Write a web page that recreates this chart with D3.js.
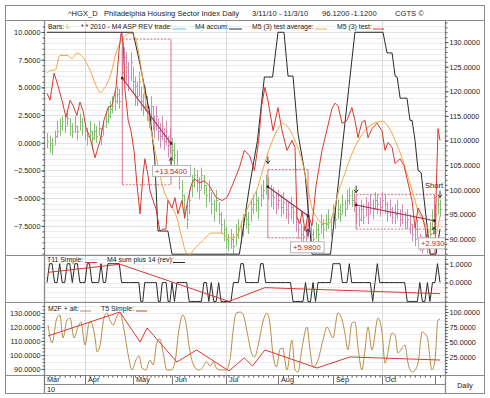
<!DOCTYPE html>
<html><head><meta charset="utf-8">
<script src="https://cdn.jsdelivr.net/npm/d3@7"></script>
<style>
body{margin:0;background:#fff;}
text{font-family:"Liberation Sans",Arial,Helvetica,sans-serif;fill:#222;}
</style></head>
<body><svg id="c" width="490" height="398"></svg>
<script>
// ---------- DATA ----------
const monthLabels = ["Mar","Apr","May","Jun","Jul","Aug","Sep","Oct",""];
const monthStartIdx = [-1.2,15,36,56,78,99,121,142,163];
const quarterGridIdx = [15,78,142];
const leftTicksMain = [10,7.5,5,2.5,0,-2.5,-5,-7.5];
const rightTicksMain = [130,125,120,115,110,105,100,95,90];
const rightTicksT11 = [1,0];
const leftTicksBottom = [130,120,110,100,90];
const rightTicksBottom = [100,75,50,25];

const barClose = [110,109.5,109,111,112,113,114,113,114.5,113,112,113,112,114,113,112,
 111,112,110.5,112,111,112.5,111,113,114,115,116.5,117,118,119.5,118,
 124,127,125,123,126,122,
 121,119,122,118,117,119,116,115,117,114,113,115,112,111,113,110,112,109,110,
 108,107,105,103,99,96,94,98,101,103,102,100,103,101,99,100,97,96,98,95,93,92,90,89,90,88.5,91,92,91,93,94,93,96,97,98,96,99,100,
 101,100.5,99,98.5,97,98,96.5,97.5,96,95,96.5,95.5,94,92,91,90.5,91.5,93,
 91,90,92,91,93,92,93,94,92,95,94,96,95,97,96,98,99,98,
 97.5,95,94,96,94.5,96.5,95,97,96,98,97,96.5,98,97,95.5,96,94.5,95,96,94,95,93.5,94,
 93,91,90,92,89,88,90,89,
 91,94,95,97,96.12];
const barHigh = [111.5,111,110.5,112,114,114.5,115,115,116,114.5,113.5,115,113,115.5,114.5,113.5,
 112.5,114,112,113.5,113,114,112.5,114,115.5,117,118,119,120,121,120.5,
 132,129,128,126,128,125,
 123,122,124,121,119.5,121,119,117,119,117,115,117,114.5,113.5,115,112.5,114,111,112.5,
 110.5,109.5,108,105,102,99,97,100,103,104.5,104,102.5,104.5,103,101,102,99.5,98,100,97.5,95.5,94,92.5,91,92,91,93,94,93.5,95,96,95.5,98,99,100,98.5,101,102,
 103,102.5,101,100.5,99.5,100,99,99.5,98,97.5,98.5,97,96,94,93,92.5,93,95,
 93,92,93.5,93,95,94,95,96,94.5,97,96,98,97,99,98,100,100.5,100,
 99.5,97.5,96.5,98,97,98.5,97.5,99,98,99.5,99,98.5,99.5,99,97.5,98,96.5,97,98,96,97,95.5,96,
 95,93,92.5,94,91,90.5,92,91,
 93.5,96,97,98.5,98];
const barLow = [108.5,107.5,107,109,110.5,111,112,111.5,113,111,110.5,111.5,110,112,111,110,
 109,110.5,108,110,109.5,111,109,111,112.5,113.5,114.5,115.5,116,117.5,116.5,
 119,123,122,120,122,119.5,
 117,117,119,116,115,116,114,112.5,114,112,110.5,112,110,108.5,110,108,109,106.5,107.5,
 106,104.5,103,100,97,94,92,95,98.5,100.5,99.5,98,100,99,96.5,97.5,95,93.5,95.5,93,91,89.5,88,87.5,88,87,88.5,90,89,90.5,92,91,93.5,95,95.5,94,96.5,98,
 99,98,96.5,96,95,96,94.5,95,94,93,94,93,91.5,90,89.5,89,89.5,90.5,
 89,88.5,90,89,91,90,91.5,92,90.5,93,92,94,93.5,95,94.5,96,97,96.5,
 95.5,93,92.5,93.5,93,94.5,93,95,94,96,95,94.5,96,95,93.5,94.5,93,93,94,92.5,93,92,92,
 91,89.5,88.5,90,87.5,87,88,87,
 89,92,93,95,94.5];
const tradeRanges = [[31,55],[95,111],[130,160]];

// M4 accum (black) [dayIndex, value]
const m4Accum = [[0,132],[36,132],[39.6,125.5],[44.7,115.3],[47.2,106],[48.8,91.6],[53.9,91.6],[56,86.9],[83.4,86.9],[87.4,100.4],[90.7,110],[93.5,122.9],[96.8,122.9],[99,132],[101.4,132],[103,123.1],[105,123.1],[107,111.4],[109.9,102.9],[112.6,86.9],[120,86.9],[125.3,110],[130.4,132],[142.4,132],[144,127.8],[146,127.8],[147.2,123.1],[148,122.9],[149.2,118.6],[151.9,118.6],[153.1,114.1],[153.9,114.1],[155.1,110],[156.3,103.9],[157.5,103.5],[161.1,86.9],[163.4,86.9],[165,92]];

// M5 (3) test (red)
const m5Test = [[0,119.6],[1.2,118.2],[2.8,123.7],[4.3,121.2],[5.9,118.2],[7.5,114.7],[9.1,118.2],[10.3,117.1],[11.8,115.1],[13,117.8],
[14.2,116.1],[15.4,112.7],[17.2,110.6],[19.4,106.5],[21.6,110],[23.3,114.1],[25.1,116.7],[26.8,117.1],[28.6,120.8],[29.9,128.4],
[30.8,131.8],[31.7,130],[32.5,120.2],[33.9,114.1],[35.1,112],[36.5,108],[38.1,100.8],[39.6,95.1],[41.1,102.9],[42.1,106.3],
[43.7,102.9],[44.7,99.8],[46.3,97.8],[47.8,96.1],[49.8,91.6],[51.4,92],[52.9,92],[53.9,97.8],[56,96.3],[57.2,98.4],
[58.4,95.1],[60,97.8],[61.2,94.3],[62.4,97.8],[64,101.2],[65.2,102.2],[67.2,101.4],[69.2,101.8],[71.2,100.8],[74,98.4],
[76.4,97.8],[78.4,98.4],[80.5,100.8],[83.4,104.5],[85.4,108],[87.5,106.9],[89.5,103.9],[91.2,110],[92.4,117.1],[93.7,120.8],
[94.9,118.2],[97,112],[99,116.7],[100.6,112],[102.6,108],[104.6,110],[105.8,108.6],[106.6,94.3],[107.8,93.1],[108.6,95.7],
[109.8,91.6],[111,95.1],[112.6,92.7],[114.2,100.8],[116.6,108],[119,113.1],[120.6,116.5],[121.9,117.6],[123.1,117.1],[124.9,113.5],
[127,114.1],[129.1,116.7],[130.4,114.1],[131.7,110.6],[133.4,113.7],[134.7,114.1],[136,110.6],[137.7,112.4],[139.9,113.5],[142,112],
[143.2,108],[144.4,109.6],[146,108.6],[147.2,105.3],[149.1,106.3],[150.7,104.9],[152.4,101.2],[153.9,97.8],[155.1,92.2],[156.3,96.3],
[157.9,94.7],[159.1,92.2],[160.3,88.6],[161.1,86.9],[163,86.9],[163.6,101.8],[164.2,112.4],[165,110]];

// M5 (3) test average (orange)
const m5Avg = [[0,123.7],[2,124.3],[3.2,124.3],[5.1,127.3],[7.9,127.3],[9.9,126.7],[11.8,127.8],[14.2,126.9],[17.2,124.3],[20.2,120.8],[21.6,119.8],[23.7,120.8],[25.9,122.9],[29,128.4],[31.6,130.8],[34.7,131.8],[37,131],[39.6,126.3],[43.2,116.1],[46.3,110],[48.3,105.9],[51.4,100.4],[55,97.1],[58,94.3],[60,90.2],[62,87.1],[63.2,86.9],[65.2,88],[68.4,89.6],[72.4,91.2],[76,91.2],[79.2,90.2],[82.1,90.4],[84.6,93.7],[87.5,97.1],[90.3,99.8],[92.8,103.9],[95.7,108.6],[98.6,112],[101,113.5],[103,112.7],[105.8,110],[108.6,105.9],[110.6,101.2],[112.6,96.3],[114.6,94.3],[117,93.1],[119.8,93.3],[121,95.1],[123.1,99.2],[126.1,103.3],[129.1,107.3],[132.6,110.6],[136,112.7],[139.9,113.7],[142,113.9],[144.4,112.9],[147.2,110],[149.9,106.5],[152.4,102.4],[154.3,99.2],[156.3,95.7],[159.1,93.1],[161.8,91],[163.4,91.2],[165,94.7]];

// Trades
const tradeStartIdx = [31.3,94.9,130.9];
const tradeEndIdx = [55.5,111,162.8];
const tradeTop = [130.6,104.1,99];
const tradeBottom = [101,90.2,92];
const trendStartVal = [122.7,100.6,96.9];
const trendEndVal = [109.4,94.7,93.7];
const tradeLabels = ["+13.5400","+5.9800","+2.9300"];
const tradeLabelIdx = [45.8,103.8,156.3];
const tradeLabelVal = [103.8,88.3,89.1];
const arrowDown = [[94.9,105.3],[130.9,99.4],[165,98.4]];
const arrowUp = [[55.5,106.5],[111,92],[162.6,92.4]];
const shortLabel = {text:"Short", i:162.6, v:100.4};

// T11 panel
const m4SumRev = [0,1,1,0,0,1,0,0,1,1, 0,1,1,0,0,0,1,1,0,0, 0,0,1,0,0,1,1,1,1,1,
 1,0,0,0,0,0,0,0,0,0, -1,-1,0,0,0,0,0,0,0,-1, -1,0,0,0,-1,-1,0,-1,0,0,
 0,0,0,-1,-1,-1,-1,-1,-1,0, 0,-1,0,-1,-1,0,-1,-1,-1,-1, -1,0,0,0,1,1,0,0,0,0,
 0,0,1,1,0,0,0,0,0,0, 0,0,0,0,0,-1,-1,-1,-1,-1, 0,-1,-1,0,-1,0,0,0,0,0,
 0,1,1,1,1,0,0,0,1,0, 0,0,0,0,0,0,0,0,-1,0, 1,0,0,0,0,0,0,0,0,0,
 0,0,-1,-1,-1,-1,-1,0,-1,-1, 0,-1,0,0,1,0];
const t11Simple = [[0.4,0.54],[30.3,0.97],[79.2,-1.0],[93.7,-0.27],[165,-0.59]];

// Bottom panel
const m2fAlt = [[0.4,78.3],[2,48.3],[3.9,90],[5.1,95],[6.3,56.7],[7.9,86.7],[9.1,90],[10.7,56.7],[12.2,75],[13.4,83.3],[15,45],[16.7,80],[17.6,83.3],[19.4,56.7],[20.3,33.3],[21.6,45],[23.3,90],[24.6,98.3],[25.9,86.7],[27.3,78.3],[29,93.3],[30.3,98.3],[32.1,70],[33.9,28.3],[35.6,3.3],[37.5,20],[39.1,26.7],[40.6,6.7],[42.6,3.3],[44.7,20],[46.3,11.7],[48.3,50],[49.8,55],[51.4,33.3],[53.4,3.3],[55.5,3.3],[57.2,16.7],[58.8,70],[60.4,95],[61.6,83.3],[63.2,36.7],[64.8,11.7],[66.8,3.3],[68.4,6.7],[70,16.7],[71.6,10],[72.8,16.7],[74.4,5],[76,3.3],[78,3.3],[79.6,20],[80.9,70],[82.1,98.3],[83.8,100],[85,95],[86.6,65],[88.3,31.7],[89.5,25],[91.6,56.7],[92.8,81.7],[94.5,98.3],[95.7,81.7],[96.9,31.7],[98.4,8.3],[99.8,38],[100.8,40],[102.6,3.3],[104.6,53.3],[105.8,3.3],[107,0],[108.6,40],[110.6,75],[111.8,36.7],[113,8],[115,20],[117,53.3],[118.6,75],[121,56.7],[123.1,98.3],[124.9,86.7],[126.1,65],[127.4,36.7],[129.1,81.7],[130.4,83.3],[131.7,41.7],[133.4,3.3],[134.7,36.7],[136,75],[137.7,36.7],[140.3,90],[142,66.7],[143.2,15],[146,65],[147.2,61.7],[148.3,31.7],[151.1,45],[152.3,15],[153.9,0],[155.1,3.3],[156.3,15],[157.9,66.7],[159.9,58.3],[161.8,3.3],[163,20],[164.2,86.7],[165,88.3]];
const t5Simple = [[0.4,113.6],[30.3,130.7],[39.6,109.3],[43.2,119.3],[58,95],[66,103.6],[79.2,88.6],[85.4,97.9],[88.7,92.1],[93.7,103.6],[114.6,90.7],[128.3,98.6],[165,96.4]];

// ---------- DRAW ----------
const svg = d3.select('#c');
const L = 44, R = 445;
const C = {red:"#d8392f", orange:"#f2a640", black:"#2a2a2a", green:"#86bd74", pink:"#cf8db3",
  box:"#de7088", trend:"#a52a4e", grid:"#ececec", axis:"#8a8a8a", tan:"#b98c48", cyan:"#55c0e0", lbl:"#b3262c"};

const x = d3.scaleLinear().domain([-1.2,0,15,36,56,78,99,121,142,163,167])
  .range([44,47,85,133,172,226,278,333,382,435,445]);
const yR = d3.scaleLinear().domain([86.73,134.29]).range([255,21]);
const yL = d3.scaleLinear().domain([-10.13,10.99]).range([255,21]);
const yT = d3.scaleLinear().domain([-1.03,1.46]).range([302,255]);
const yB = d3.scaleLinear().domain([85.7,137.86]).range([375,302]);
const yBR = d3.scaleLinear().domain([-5,116.67]).range([375,302]);

svg.append('rect').attr('x',0).attr('y',0).attr('width',490).attr('height',398).attr('fill','#fff');

const defs = svg.append('defs');
[['c1',21,255],['c2',255,302],['c3',302,375]].forEach(([id,t,b])=>{
  defs.append('clipPath').attr('id',id).append('rect').attr('x',L).attr('y',t).attr('width',R-L).attr('height',b-t);
});

// gridlines
const grid = svg.append('g');
grid.selectAll('.g1').data(d3.range(-10,11,0.5)).join('line')
  .attr('x1',L).attr('x2',R).attr('y1',d=>Math.round(yL(d))+0.5).attr('y2',d=>Math.round(yL(d))+0.5)
  .attr('stroke',d=>d%2.5===0?'#e2e2e2':C.grid);
grid.selectAll('.g2').data(d3.range(-1,1.5,0.25)).join('line')
  .attr('x1',L).attr('x2',R).attr('y1',d=>Math.round(yT(d))+0.5).attr('y2',d=>Math.round(yT(d))+0.5)
  .attr('stroke',C.grid);
grid.selectAll('.g3').data(d3.range(90,136,5)).join('line')
  .attr('x1',L).attr('x2',R).attr('y1',d=>Math.round(yB(d))+0.5).attr('y2',d=>Math.round(yB(d))+0.5)
  .attr('stroke',C.grid);
grid.selectAll('.gv').data(quarterGridIdx).join('line')
  .attr('x1',d=>Math.round(x(d))+0.5).attr('x2',d=>Math.round(x(d))+0.5).attr('y1',21).attr('y2',375)
  .attr('stroke','#dadada');

// ---------- main panel ----------
const g1 = svg.append('g').attr('clip-path','url(#c1)');
const bars = barClose.map((c,i)=>({i,c,h:barHigh[i],l:barLow[i],
  t:tradeRanges.some(r=>i>=r[0]&&i<=r[1])}));
const bx = d=>Math.round(x(d.i))+0.5;
g1.selectAll('.bar').data(bars).join('line')
  .attr('x1',bx).attr('x2',bx).attr('y1',d=>yR(d.h)).attr('y2',d=>yR(d.l))
  .attr('stroke',d=>d.t?C.pink:C.green).attr('stroke-width',1);
g1.selectAll('.cl').data(bars).join('line')
  .attr('x1',bx).attr('x2',d=>bx(d)+1.5).attr('y1',d=>Math.round(yR(d.c))+0.5).attr('y2',d=>Math.round(yR(d.c))+0.5)
  .attr('stroke',d=>d.t?C.pink:C.green).attr('stroke-width',1);

// trade boxes
const trades = tradeStartIdx.map((s,k)=>({s,e:tradeEndIdx[k],top:tradeTop[k],bot:tradeBottom[k],
  t0:trendStartVal[k],t1:trendEndVal[k],lab:tradeLabels[k],li:tradeLabelIdx[k],lv:tradeLabelVal[k]}));
trades.forEach(t=>{
  const x0=x(t.s), x1=x(t.e), y0=yR(t.top), y1=yR(t.bot);
  g1.append('line').attr('x1',x0).attr('x2',x1).attr('y1',y0).attr('y2',y0).attr('stroke',C.box).attr('stroke-dasharray','2,1.5');
  g1.append('line').attr('x1',x0).attr('x2',x1).attr('y1',y1).attr('y2',y1).attr('stroke',C.box).attr('stroke-dasharray','2,1.5');
  g1.append('line').attr('x1',x0).attr('x2',x0).attr('y1',y0).attr('y2',y1).attr('stroke',C.box);
  g1.append('line').attr('x1',x1).attr('x2',x1).attr('y1',y0).attr('y2',y1).attr('stroke',C.box);
});

const line = (ys)=>d3.line().x(d=>x(d[0])).y(d=>ys(d[1]));
g1.append('path').datum(m4Accum).attr('d',line(yR)).attr('fill','none').attr('stroke',C.black).attr('stroke-width',1);
g1.append('path').datum(m5Avg).attr('d',line(yR).curve(d3.curveMonotoneX)).attr('fill','none').attr('stroke',C.orange).attr('stroke-width',1);
g1.append('path').datum(m5Test).attr('d',line(yR)).attr('fill','none').attr('stroke',C.red).attr('stroke-width',1);

// trend lines & markers
trades.forEach(t=>{
  g1.append('line').attr('x1',x(t.s)).attr('x2',x(t.e)).attr('y1',yR(t.t0)).attr('y2',yR(t.t1))
    .attr('stroke',C.trend).attr('stroke-width',1.1);
  [[t.s,t.t0],[t.e,t.t1]].forEach(p=>{
    g1.append('rect').attr('x',x(p[0])-1.2).attr('y',yR(p[1])-1.2).attr('width',2.4).attr('height',2.4).attr('fill','#3a1a1a');
  });
});
arrowDown.forEach(([i,v])=>{
  const ax=x(i), ay=yR(v);
  g1.append('line').attr('x1',ax).attr('x2',ax).attr('y1',ay-7).attr('y2',ay).attr('stroke','#333');
  g1.append('path').attr('d',`M${ax-2},${ay-3}L${ax},${ay}L${ax+2},${ay-3}`).attr('fill','none').attr('stroke','#333');
});
arrowUp.forEach(([i,v])=>{
  const ax=x(i), ay=yR(v);
  g1.append('line').attr('x1',ax).attr('x2',ax).attr('y1',ay).attr('y2',ay+7).attr('stroke','#333');
  g1.append('path').attr('d',`M${ax-2},${ay+3}L${ax},${ay}L${ax+2},${ay+3}`).attr('fill','none').attr('stroke','#333');
});
// labels
trades.forEach(t=>{
  const lx=x(t.li), ly=yR(t.lv);
  const grp=g1.append('g');
  const tx=grp.append('text').attr('x',lx+3).attr('y',ly+2.7).attr('font-size',7.6).style('fill',C.lbl).text(t.lab);
  const w=tx.node().getComputedTextLength();
  grp.insert('rect','text').attr('x',lx+0.5).attr('y',ly-5.5).attr('width',w+6).attr('height',11)
    .attr('fill','#fff').attr('stroke','#b5b5b5');
});
g1.append('text').attr('x',x(shortLabel.i)).attr('y',yR(shortLabel.v)).attr('text-anchor','middle')
  .attr('font-size',7.6).text(shortLabel.text);

// ---------- T11 panel ----------
const g2 = svg.append('g').attr('clip-path','url(#c2)');
g2.append('path').datum(m4SumRev.map((v,i)=>[i,v])).attr('d',line(yT)).attr('fill','none').attr('stroke',C.black).attr('stroke-width',1);
g2.append('path').datum(t11Simple).attr('d',line(yT)).attr('fill','none').attr('stroke',C.red).attr('stroke-width',1);

// ---------- bottom panel ----------
const g3 = svg.append('g').attr('clip-path','url(#c3)');
g3.append('path').datum(m2fAlt).attr('d',line(yBR).curve(d3.curveMonotoneX)).attr('fill','none').attr('stroke',C.tan).attr('stroke-width',1);
g3.append('path').datum(t5Simple).attr('d',line(yB)).attr('fill','none').attr('stroke',C.red).attr('stroke-width',1);

// ---------- frame ----------
const fr = svg.append('g').attr('stroke',C.axis).attr('fill','none');
fr.append('rect').attr('x',5.5).attr('y',5.5).attr('width',479).attr('height',388);
[[5,485,20.5],[5,485,255.5],[5,485,302.5],[5,485,375.5],[44,445,384.5]].forEach(([a,b,y])=>
  fr.append('line').attr('x1',a).attr('x2',b).attr('y1',y).attr('y2',y));
[44.5,445.5].forEach(xx=>fr.append('line').attr('x1',xx).attr('x2',xx).attr('y1',20).attr('y2',394).attr('stroke-width',1.3));

// ---------- axes ----------
const fmt = d3.format('.4f');
function styleAxis(sel){
  sel.select('.domain').remove();
  sel.selectAll('line').attr('stroke','#555');
  sel.selectAll('text').attr('font-size',7.3).style('fill','#222').attr('font-family','"Liberation Sans",Arial,sans-serif');
}
// minor ticks
svg.append('g').attr('transform','translate(44.5,0)').call(d3.axisLeft(yL).tickValues(d3.range(-10,11,0.5)).tickSize(2).tickFormat('')).call(styleAxis);
svg.append('g').attr('transform','translate(445.5,0)').call(d3.axisRight(yR).tickValues(d3.range(87,135,1)).tickSize(2).tickFormat('')).call(styleAxis);
svg.append('g').attr('transform','translate(44.5,0)').call(d3.axisLeft(yB).tickValues(d3.range(90,136,2.5)).tickSize(2).tickFormat('')).call(styleAxis);
svg.append('g').attr('transform','translate(445.5,0)').call(d3.axisRight(yT).tickValues(d3.range(-1,1.5,0.25)).tickSize(2).tickFormat('')).call(styleAxis);
svg.append('g').attr('transform','translate(445.5,0)').call(d3.axisRight(yBR).tickValues(d3.range(0,115,5)).tickSize(2).tickFormat('')).call(styleAxis);
// labelled ticks
svg.append('g').attr('transform','translate(44.5,0)').call(d3.axisLeft(yL).tickValues(leftTicksMain).tickFormat(fmt).tickSize(3).tickPadding(1)).call(styleAxis);
svg.append('g').attr('transform','translate(445.5,0)').call(d3.axisRight(yR).tickValues(rightTicksMain).tickFormat(fmt).tickSize(3).tickPadding(1)).call(styleAxis);
svg.append('g').attr('transform','translate(445.5,0)').call(d3.axisRight(yT).tickValues(rightTicksT11).tickFormat(fmt).tickSize(3).tickPadding(1)).call(styleAxis);
svg.append('g').attr('transform','translate(44.5,0)').call(d3.axisLeft(yB).tickValues(leftTicksBottom).tickFormat(fmt).tickSize(3).tickPadding(1)).call(styleAxis);
svg.append('g').attr('transform','translate(445.5,0)').call(d3.axisRight(yBR).tickValues(rightTicksBottom).tickFormat(fmt).tickSize(3).tickPadding(1)).call(styleAxis);

// x axis
svg.append('g').attr('transform','translate(0,375.5)')
  .call(d3.axisBottom(x).tickValues(d3.range(1,166,2)).tickSize(2).tickFormat('')).call(styleAxis);
const xa = svg.append('g').attr('transform','translate(0,375.5)')
  .call(d3.axisBottom(x).tickValues(monthStartIdx).tickSize(9).tickFormat((d,i)=>monthLabels[i]));
xa.call(styleAxis);
xa.selectAll('line').attr('stroke','#777');
xa.selectAll('text').attr('text-anchor','start').attr('x',2.5).attr('y',1).attr('dy','0.75em').attr('font-size',7.3);
svg.append('text').attr('x',47).attr('y',392).attr('font-size',7.3).text('10');
svg.append('text').attr('x',465).attr('y',388).attr('text-anchor','middle').attr('font-size',7).text('Daily');

// ---------- title ----------
[["^HGX_D",68],["Philadelphia Housing Sector Index Daily",104],["3/11/10 - 11/3/10",252],["96.1200",322],["-1.1200",351],["CGTS \u00A9",395]]
 .forEach(([t,xx])=>svg.append('text').attr('x',xx).attr('y',16).attr('font-size',7.6).text(t));

// ---------- legends ----------
function legend(items,y){
  items.forEach(it=>{
    const t=svg.append('text').attr('x',it.x).attr('y',y).attr('font-size',6.9);
    t.append('tspan').text(it.t);
    if(it.extra) t.append('tspan').style('fill',it.extraColor).text(it.extra);
    if(it.u) svg.append('line').attr('x1',it.u[0]).attr('x2',it.u[1]).attr('y1',y+0.5).attr('y2',y+0.5).attr('stroke',it.c).attr('stroke-width',1);
  });
}
legend([
  {t:"Bars: ",x:48,extra:"I-",extraColor:C.green},
  {t:"* * 2010 - M4 ASP REV trade:",x:81,u:[173,186],c:C.cyan},
  {t:"M4 accum:",x:195,u:[229,242],c:C.black},
  {t:"M5 (3) test average:",x:252,u:[315,327],c:C.orange},
  {t:"M5 (3) test:",x:337,u:[373,384],c:C.red}
],28.5);
legend([
  {t:"T11 Simple:",x:47,u:[85,97],c:C.red},
  {t:"M4 sum plus 14 (rev):",x:107,u:[173,185],c:C.black}
],262);
legend([
  {t:"M2F + alt:",x:48,u:[80,91],c:C.tan},
  {t:"T5 Simple:",x:101,u:[136,147],c:C.red}
],310.5);
</script>
</body></html>
